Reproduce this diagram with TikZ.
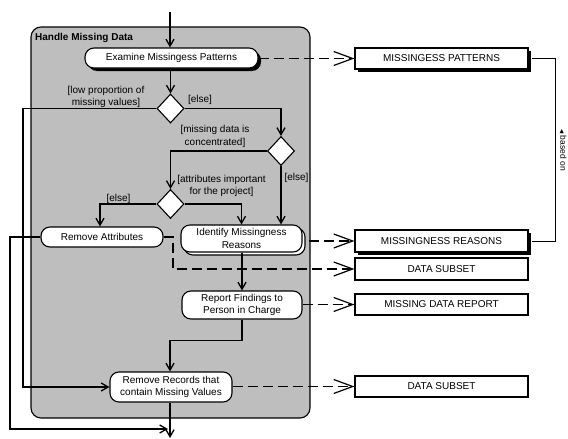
\documentclass[tikz,border=0pt]{standalone}
\usepackage{fontspec}
\setmainfont{Liberation Sans}
\newfontfamily\symfont{DejaVu Sans}
\usetikzlibrary{shapes.geometric,arrows.meta,shadows}
\definecolor{panel}{RGB}{190,190,190}

\begin{document}
\begin{tikzpicture}[x=1pt,y=-1pt,
  every node/.style={font=\fontsize{10}{12.5}\selectfont},
  action/.style={draw, fill=white, line width=1.1pt, rounded corners=9pt,
    align=center, inner sep=0pt},
  decision/.style={diamond, draw, fill=white, line width=1.1pt, inner sep=0pt,
    minimum width=27pt, minimum height=29pt},
  objbox/.style={draw, fill=white, line width=1.1pt, minimum width=173pt,
    inner sep=0pt},
  blackshadow/.style={drop shadow={shadow xshift=3pt, shadow yshift=-3pt,
    fill=black, opacity=1}},
  guard/.style={align=center, inner sep=0pt},
  flow/.style={line width=1.3pt, -{Straight Barb[length=7pt,width=8pt]}},
  objflow/.style={line width=1.1pt, dash pattern=on 10pt off 5pt,
    -{Straight Barb[length=19pt,width=14pt,line width=1.2pt]}}]

\useasboundingbox (0,0) rectangle (568,439);

% activity frame
\draw[fill=panel, line width=1.1pt, rounded corners=10pt] (31,27) rectangle (310,418);
\node[anchor=west, inner sep=0pt, font=\bfseries\fontsize{10}{12}\selectfont] (title) at (35,38) {Handle Missing Data};

% free ends and bend points
\coordinate (start) at (170,12);
\coordinate (stop) at (170,438);
\coordinate (lx1) at (23,0);
\coordinate (lx2) at (10,0);
\coordinate (mj) at (168,429);
\coordinate (rabend) at (173,0);
\coordinate (bx) at (555,0);

% actions
\node[action, blackshadow, minimum width=173pt, minimum height=20pt] (exam) at (171.5,58) {Examine Missingess Patterns};
\node[decision] (d1) at (170.5,108.5) {};
\node[decision] (d2) at (281,151) {};
\node[decision] (d3) at (170.5,204) {};
\node[action, minimum width=122pt, minimum height=20pt] (ra) at (102,237) {Remove Attributes};
\node[action, minimum width=121pt, minimum height=27pt] (identback) at (244.5,241.5) {};
\node[action, minimum width=121pt, minimum height=27pt] (ident) at (241.5,238.5) {Identify Missingness\\Reasons};
\node[action, minimum width=120pt, minimum height=28pt] (report) at (242,305) {Report Findings to\\Person in Charge};
\node[action, minimum width=122pt, minimum height=30pt] (rr) at (171,387) {Remove Records that\\contain Missing Values};

% object nodes
\node[objbox, blackshadow, minimum height=21pt] (pat) at (441.5,58.5) {MISSINGESS PATTERNS};
\node[objbox, blackshadow, minimum height=22pt] (reasons) at (441.5,241) {MISSINGNESS REASONS};
\node[objbox, minimum height=22pt] (sub1) at (441.5,269) {DATA SUBSET};
\node[objbox, minimum height=21pt] (rep) at (441.5,304.5) {MISSING DATA REPORT};
\node[objbox, minimum height=21pt] (sub2) at (441.5,386.5) {DATA SUBSET};

% guards
\node[guard] (g1) at (106,97) {[low proportion of\\missing values]};
\node[guard] (g2) at (200,99.5) {[else]};
\node[guard] (g3) at (215,136.5) {[missing data is\\concentrated]};
\node[guard] (g4) at (296.5,178) {[else]};
\node[guard] (g5) at (221.5,186) {[attributes important\\for the project]};
\node[guard] (g6) at (118.5,198.5) {[else]};

% control flow
\draw[flow] (start) -- (start |- exam.north);
\draw[flow] (exam.south -| d1) -- (d1.north);
\draw[flow] (d1.west) -| (lx1 |- rr.west) -- (rr.west);
\draw[flow] (d1.east) -| (d2.north);
\draw[flow] (d2.west) -| (d3.north);
\draw[flow] (d2.south) -- (d2.south |- ident.north);
\draw[flow] (d3.west) -| ([xshift=-2pt]ra.north);
\draw[flow] (d3.east) -| (ident.north);
\draw[flow] (ident.south -| report.north) -- (report.north);
\draw[flow] (report.south) -- ++(0,21) -| ([xshift=-1pt]rr.north);
\draw[flow] (rr.south -| stop) -- (stop);
\draw[flow] (ra.west) -| (lx2 |- mj) -- (mj);

% object flow
\draw[objflow] (exam.east |- pat.west) -- (pat.west);
\draw[objflow] ([xshift=3pt]reasons.west -| identback.east) -- (reasons.west);
\draw[objflow] (ra.east) -| (rabend |- sub1.west) -- (sub1.west);
\draw[objflow] (report.east |- rep.west) -- (rep.west);
\draw[objflow] (rr.east |- sub2.west) -- (sub2.west);

% association between the two object nodes
\draw[line width=0.8pt] ([xshift=3pt]pat.east) -| (bx |- reasons.east) -- ([xshift=3pt]reasons.east);
\node[rotate=-90, inner sep=0pt, font=\fontsize{8.5}{10}\selectfont] (assoc) at (563,150) {{\symfont\fontsize{5.5}{10}\selectfont ◀} based on};

\end{tikzpicture}
\end{document}
